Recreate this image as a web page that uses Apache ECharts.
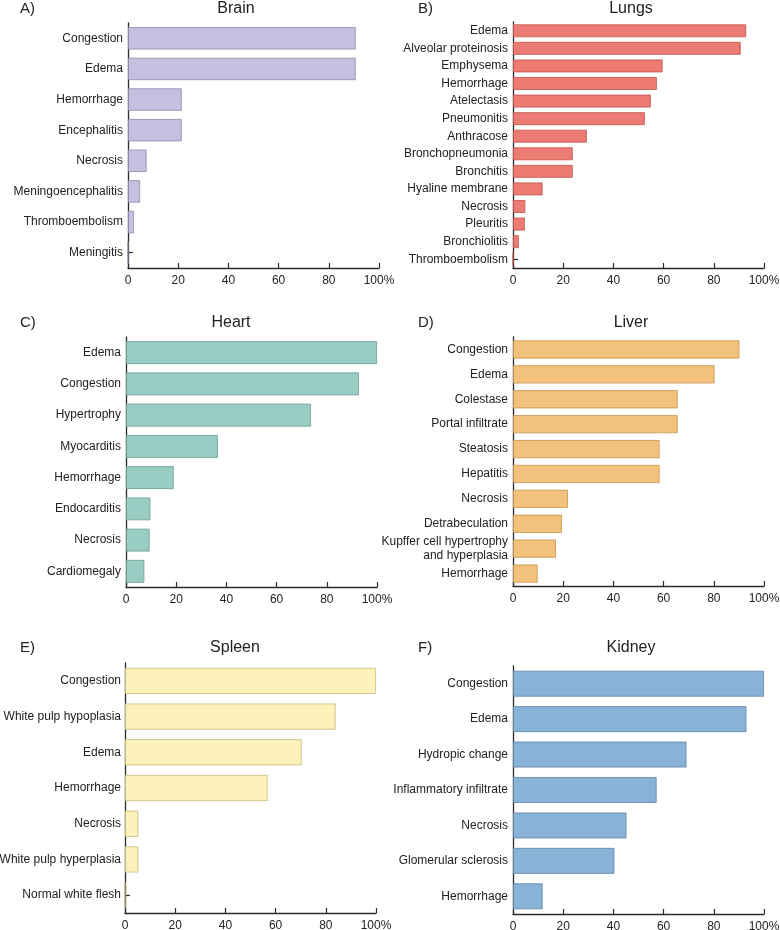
<!DOCTYPE html>
<html>
<head>
<meta charset="utf-8">
<script src="https://cdn.jsdelivr.net/npm/echarts@6/dist/echarts.min.js"></script>
<style>html,body{margin:0;padding:0;background:#fff}#c{width:780px;height:930px}</style>
</head>
<body>
<div id="c"></div>
<script>
// ---- Data ----
const brainCats = ['Congestion','Edema','Hemorrhage','Encephalitis','Necrosis','Meningoencephalitis','Thromboembolism','Meningitis'];
const brainVals = [90.7, 90.7, 21.4, 21.4, 7.4, 4.8, 2.4, 0];

const lungsCats = ['Edema','Alveolar proteinosis','Emphysema','Hemorrhage','Atelectasis','Pneumonitis','Anthracose','Bronchopneumonia','Bronchitis','Hyaline membrane','Necrosis','Pleuritis','Bronchiolitis','Thromboembolism'];
const lungsVals = [92.9, 90.7, 59.6, 57.3, 54.9, 52.5, 29.4, 23.8, 23.8, 11.8, 4.9, 4.7, 2.3, 0];

const heartCats = ['Edema','Congestion','Hypertrophy','Myocarditis','Hemorrhage','Endocarditis','Necrosis','Cardiomegaly'];
const heartVals = [100, 92.8, 73.7, 36.6, 19.0, 9.7, 9.4, 7.3];

const liverCats = ['Congestion','Edema','Colestase','Portal infiltrate','Steatosis','Hepatitis','Necrosis','Detrabeculation','Kupffer cell hypertrophy\nand hyperplasia','Hemorrhage'];
const liverVals = [90.2, 80.3, 65.6, 65.6, 58.4, 58.4, 21.9, 19.5, 17.1, 9.8];

const spleenCats = ['Congestion','White pulp hypoplasia','Edema','Hemorrhage','Necrosis','White pulp hyperplasia','Normal white flesh'];
const spleenVals = [100, 83.9, 70.4, 56.8, 5.3, 5.3, 0];

const kidneyCats = ['Congestion','Edema','Hydropic change','Inflammatory infiltrate','Necrosis','Glomerular sclerosis','Hemorrhage'];
const kidneyVals = [100, 93.0, 69.1, 57.2, 45.2, 40.4, 11.8];

const xTickLabels = ['0','20','40','60','80','100%'];
const panelTitles = ['Brain','Lungs','Heart','Liver','Spleen','Kidney'];
const panelLetters = ['A)','B)','C)','D)','E)','F)'];

// ---- Layout / style ----
const FONT = '"Liberation Sans", Arial, Helvetica, sans-serif';
const panels = [
  {cats: brainCats,  vals: brainVals,  left:128, top:23,  w:251, h:245, lm:5, fill:'#c5c0e0', border:'#8e89aa'},
  {cats: lungsCats,  vals: lungsVals,  left:513, top:22,  w:251, h:246, lm:5, fill:'#ec7b73', border:'#c0544d'},
  {cats: heartCats,  vals: heartVals,  left:126, top:337, w:251, h:250, lm:5, fill:'#99cdc3', border:'#6b9d93'},
  {cats: liverCats,  vals: liverVals,  left:513, top:337, w:251, h:249, lm:5, fill:'#f2c17b', border:'#c49652'},
  {cats: spleenCats, vals: spleenVals, left:125, top:663, w:251, h:250, lm:4, fill:'#fdf3ba', border:'#c7b97f'},
  {cats: kidneyCats, vals: kidneyVals, left:513, top:666, w:251, h:248, lm:5, fill:'#89b2d7', border:'#5d84aa'}
];

const grids = [], xAxes = [], yAxes = [], series = [], titles = [];
panels.forEach((p, i) => {
  grids.push({left: p.left, top: p.top, width: p.w, height: p.h, containLabel: false, outerBoundsMode: 'none'});
  xAxes.push({
    type: 'value', gridIndex: i, min: 0, max: 100, interval: 20,
    axisLine: {show: true, lineStyle: {color: '#2a2a2a', width: 1.3}},
    axisTick: {show: true, inside: true, length: 5, lineStyle: {color: '#2a2a2a', width: 1.2}},
    splitLine: {show: false},
    axisLabel: {
      color: '#222', fontFamily: FONT, fontSize: 12, margin: 7,
      formatter: (v) => xTickLabels[Math.round(v / 20)]
    }
  });
  yAxes.push({
    type: 'category', gridIndex: i, data: p.cats, inverse: true,
    axisLine: {show: true, lineStyle: {color: '#2a2a2a', width: 1.3}},
    axisTick: {show: true, inside: true, alignWithLabel: true, length: 5, lineStyle: {color: '#2a2a2a', width: 1.2}},
    axisLabel: {color: '#222', fontFamily: FONT, fontSize: 12, margin: p.lm, lineHeight: 14, align: 'right'}
  });
  series.push({
    type: 'bar', xAxisIndex: i, yAxisIndex: i, data: p.vals,
    barCategoryGap: '27%',
    itemStyle: {color: p.fill, borderColor: p.border, borderWidth: 0.8},
    silent: true, animation: false
  });
});

const titlePos = [
  {cx:236, ty:1,   lx:20},
  {cx:631, ty:1,   lx:418},
  {cx:231, ty:315, lx:20},
  {cx:631, ty:315, lx:418},
  {cx:235, ty:640, lx:20},
  {cx:631, ty:640, lx:418}
];
titlePos.forEach((t, i) => {
  titles.push({text: panelTitles[i], left: t.cx, top: t.ty, textAlign: 'center', padding: 0,
    textStyle: {fontFamily: FONT, fontSize: 16, fontWeight: 'normal', color: '#222'}});
  titles.push({text: panelLetters[i], left: t.lx, top: t.ty, padding: 0,
    textStyle: {fontFamily: FONT, fontSize: 15, fontWeight: 'normal', color: '#222'}});
});

const chart = echarts.init(document.getElementById('c'), null, {renderer: 'canvas'});
chart.setOption({
  animation: false,
  backgroundColor: '#fff',
  title: titles,
  grid: grids,
  xAxis: xAxes,
  yAxis: yAxes,
  series: series
});
</script>
</body>
</html>
